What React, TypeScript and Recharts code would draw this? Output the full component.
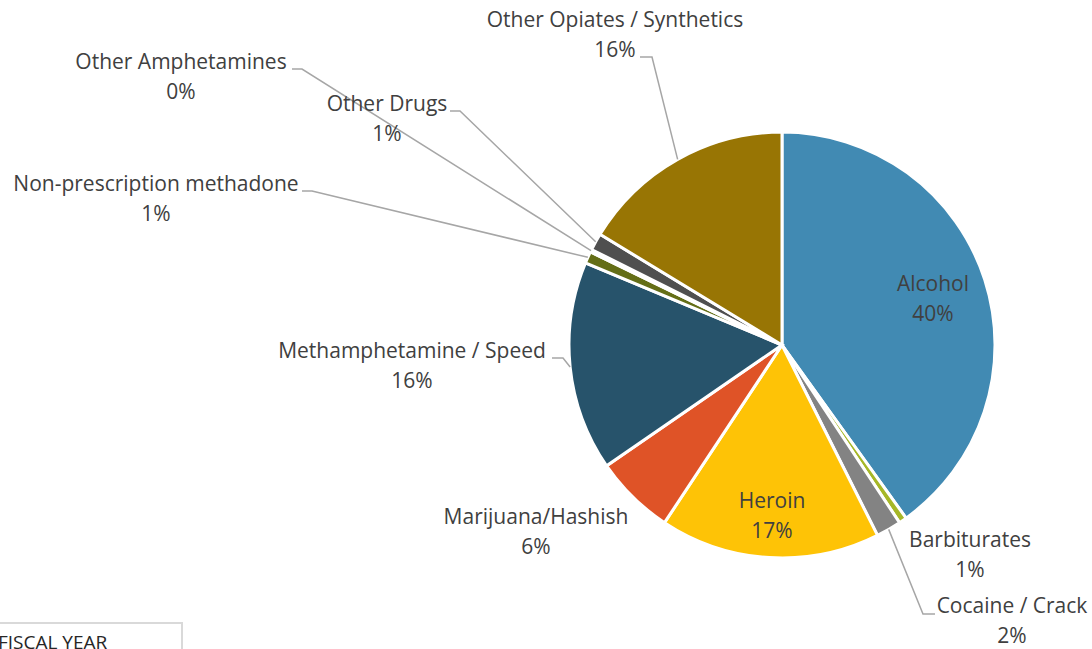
import { PieChart, Pie, Cell } from 'recharts';

const categories = [
  'Alcohol',
  'Barbiturates',
  'Cocaine / Crack',
  'Heroin',
  'Marijuana/Hashish',
  'Methamphetamine / Speed',
  'Non-prescription methadone',
  'Other Amphetamines',
  'Other Drugs',
  'Other Opiates / Synthetics'
];
const shares = [40.1, 0.6, 1.9, 16.7, 6.1, 15.9, 0.9, 0.2, 1.3, 16.3];
const colors = [
  '#418AB3', '#A6B727', '#838383', '#FEC306', '#DF5327',
  '#27536B', '#646E17', '#C55A11', '#4F4F4F', '#987504'
];

const data = categories.map((name, i) => ({ name, value: shares[i] }));

const CX = 782;
const CY = 345;
const RADIUS = 213;
const RAD = Math.PI / 180;
const FONT = '"Open Sans", sans-serif';

// label placement relative to pie centre: text centre x, first baseline y,
// optional leader elbow [x, y] and end x of the short horizontal stub
type Place = { tx: number; ty: number; elbow?: [number, number]; endX?: number };
const placement: Record<string, Place> = {
  'Alcohol': { tx: 151, ty: -54 },
  'Barbiturates': { tx: 188, ty: 202 },
  'Cocaine / Crack': { tx: 230, ty: 268, elbow: [141, 269], endX: 153 },
  'Heroin': { tx: -10, ty: 163 },
  'Marijuana/Hashish': { tx: -246, ty: 179 },
  'Methamphetamine / Speed': { tx: -370, ty: 13, elbow: [-219, 13], endX: -230 },
  'Non-prescription methadone': { tx: -626, ty: -154, elbow: [-470, -154], endX: -480 },
  'Other Amphetamines': { tx: -601, ty: -276, elbow: [-480, -276], endX: -490 },
  'Other Drugs': { tx: -395, ty: -234, elbow: [-322, -234], endX: -332 },
  'Other Opiates / Synthetics': { tx: -167, ty: -318, elbow: [-130, -288], endX: -142 }
};

const renderLabel = (props: any) => {
  const { midAngle, name, percent } = props;
  const cx = props.cx ?? CX;
  const cy = props.cy ?? CY;
  const r = props.outerRadius ?? RADIUS;
  const p = placement[name];
  if (!p) return null;
  const sx = cx + r * Math.cos(-midAngle * RAD);
  const sy = cy + r * Math.sin(-midAngle * RAD);
  const pct = `${Math.round(percent * 100)}%`;
  return (
    <g key={name}>
      {p.elbow && (
        <polyline
          points={`${sx},${sy} ${cx + p.elbow[0]},${cy + p.elbow[1]} ${cx + (p.endX as number)},${cy + p.elbow[1]}`}
          fill="none"
          stroke="#A6A6A6"
          strokeWidth={1.5}
        />
      )}
      <text x={cx + p.tx} y={cy + p.ty} textAnchor="middle" fill="#404040" fontSize={21} fontFamily={FONT}>
        {name}
      </text>
      <text x={cx + p.tx} y={cy + p.ty + 30} textAnchor="middle" fill="#404040" fontSize={21} fontFamily={FONT}>
        {pct}
      </text>
    </g>
  );
};

export default function App() {
  return (
    <div style={{ position: 'absolute', left: 0, top: 0, width: 1092, height: 649, overflow: 'hidden', background: '#fff' }}>
      <PieChart width={1092} height={649} margin={{ top: 0, right: 0, bottom: 0, left: 0 }}>
        <Pie
          data={data}
          dataKey="value"
          nameKey="name"
          cx={CX}
          cy={CY}
          outerRadius={RADIUS}
          startAngle={90}
          endAngle={-270}
          stroke="#fff"
          strokeWidth={3}
          labelLine={false}
          label={renderLabel}
          isAnimationActive={false}
        >
          {data.map((d, i) => (
            <Cell key={d.name} fill={colors[i]} />
          ))}
        </Pie>
      </PieChart>
      <div
        style={{
          position: 'absolute',
          left: -20,
          top: 622,
          width: 203,
          height: 60,
          border: '2px solid #D9D9D9',
          boxSizing: 'border-box'
        }}
      />
      <div
        style={{
          position: 'absolute',
          left: -2,
          top: 629,
          fontFamily: FONT,
          fontSize: 19,
          color: '#262626',
          whiteSpace: 'nowrap'
        }}
      >
        FISCAL YEAR
      </div>
    </div>
  );
}
